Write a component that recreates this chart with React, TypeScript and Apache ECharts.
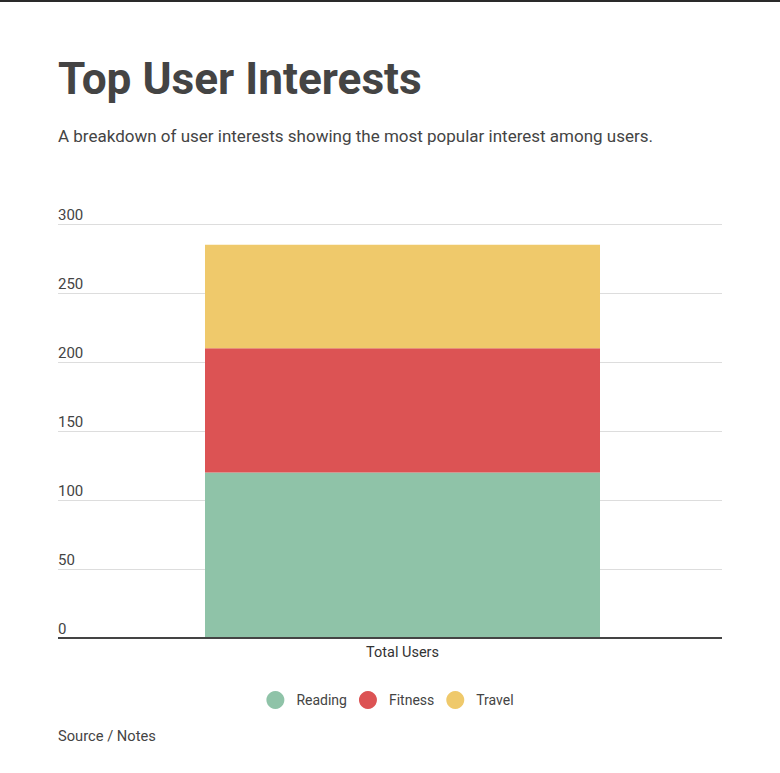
import React, { useEffect, useRef } from "react";
import * as echarts from "echarts";

const categories = ["Total Users"];
const seriesNames = ["Reading", "Fitness", "Travel"];
const readingValues = [120];
const fitnessValues = [90];
const travelValues = [75];
const yTicks = [0, 50, 100, 150, 200, 250, 300];
const colors = ["#8fc3a8", "#dc5354", "#efc96b"];

export default function App() {
  const ref = useRef<HTMLDivElement>(null);
  useEffect(() => {
    document.body.style.margin = "0";
    const chart = echarts.init(ref.current!, null, { renderer: "svg" });
    const font = "Roboto";
    const seriesData = [readingValues, fitnessValues, travelValues];
    chart.setOption({
      animation: false,
      backgroundColor: "#ffffff",
      textStyle: { fontFamily: font },
      graphic: [
        { type: "rect", shape: { x: 0, y: 0, width: 780, height: 2 }, style: { fill: "#2a2a2a" } },
        {
          type: "text",
          left: 58,
          top: 57,
          style: { text: "Top User Interests", font: `bold 44.2px ${font}`, fill: "#444444" },
        },
        {
          type: "text",
          left: 58,
          top: 127,
          style: {
            text: "A breakdown of user interests showing the most popular interest among users.",
            font: `17px ${font}`,
            fill: "#444444",
          },
        },
        {
          type: "text",
          left: 58,
          top: 728,
          style: { text: "Source / Notes", font: `14.7px ${font}`, fill: "#444444" },
        },
      ],
      legend: {
        left: "center",
        top: 686,
        icon: "circle",
        itemWidth: 18,
        itemHeight: 18,
        itemGap: 12,
        data: seriesNames,
        textStyle: { fontFamily: font, fontSize: 14, color: "#444444", padding: [0, 0, 0, 7] },
      },
      grid: [
        { left: 58, right: 58, top: 224, height: 414 },
        { left: 83, right: 58, top: 224, height: 414 },
      ],
      xAxis: [
        {
          gridIndex: 0,
          type: "value",
          min: 0,
          max: 1,
          show: true,
          axisLine: { show: false },
          axisTick: { show: false },
          axisLabel: { show: false },
          splitLine: { show: false },
        },
        {
          gridIndex: 1,
          type: "category",
          data: categories,
          axisLine: { show: false },
          axisTick: { show: false },
          axisLabel: { fontFamily: font, fontSize: 14.5, color: "#333333", margin: 7 },
        },
      ],
      yAxis: [
        {
          gridIndex: 0,
          type: "value",
          min: 0,
          max: 300,
          interval: 50,
          axisLine: { show: false },
          axisTick: { show: false },
          splitLine: { show: true, lineStyle: { color: "#dddddd", width: 1 } },
          axisLabel: {
            inside: true,
            margin: 0,
            verticalAlign: "bottom",
            padding: [0, 0, 2, 0],
            fontFamily: font,
            fontSize: 15,
            color: "#444444",
            formatter: (v: number) => (yTicks.includes(v) ? String(v) : ""),
          },
        },
        {
          gridIndex: 1,
          type: "value",
          min: 0,
          max: 300,
          interval: 50,
          show: false,
          splitLine: { show: false },
        },
      ],
      series: [
        ...seriesNames.map((name, i) => ({
          name,
          type: "bar",
          stack: "total",
          xAxisIndex: 1,
          yAxisIndex: 1,
          data: seriesData[i],
          barWidth: 395,
          itemStyle: { color: colors[i] },
          emphasis: { disabled: true },
        })),
        {
          type: "line",
          xAxisIndex: 0,
          yAxisIndex: 0,
          data: [],
          silent: true,
          markLine: {
            silent: true,
            symbol: "none",
            label: { show: false },
            lineStyle: { color: "#444444", width: 2, type: "solid" },
            data: [[{ coord: [0, 0] }, { coord: [1, 0] }]],
          },
        },
      ],
    });
    return () => chart.dispose();
  }, []);
  return <div ref={ref} style={{ width: 780, height: 773 }} />;
}
